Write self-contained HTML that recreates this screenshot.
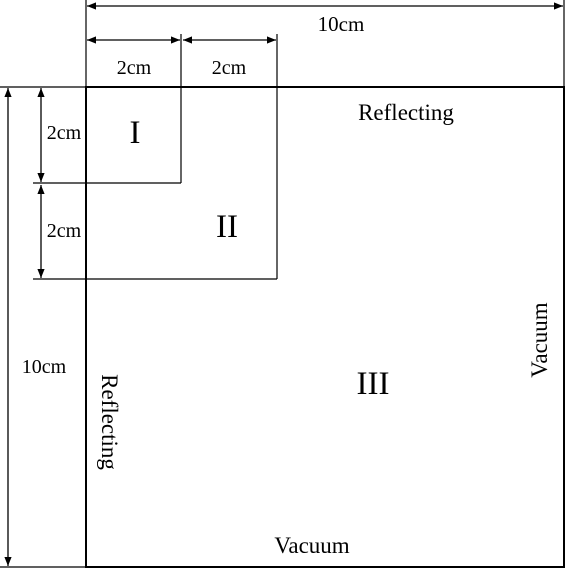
<!DOCTYPE html>
<html><head><meta charset="utf-8"><style>
html,body{margin:0;padding:0;background:#fff;}
svg{display:block;font-family:"Liberation Serif",serif;}
</style></head><body>
<svg width="568" height="570" viewBox="0 0 568 570">
<defs>
<marker id="ah" viewBox="0 0 10 10" refX="10" refY="5" markerWidth="9" markerHeight="9" orient="auto-start-reverse" markerUnits="userSpaceOnUse"><path d="M0,1 L10,5 L0,9 z" fill="#000"/></marker>
</defs>
<g stroke="#000" stroke-width="1.2" fill="none">
<line x1="86" y1="0" x2="86" y2="87"/>
<line x1="181" y1="34" x2="181" y2="183"/>
<line x1="277" y1="34" x2="277" y2="279"/>
<line x1="0" y1="87" x2="86" y2="87"/>
<line x1="33" y1="183" x2="181" y2="183"/>
<line x1="33" y1="279" x2="277" y2="279"/>
<line x1="0" y1="567" x2="86" y2="567"/>
<line x1="564" y1="0" x2="564" y2="87"/>
</g>
<rect x="86" y="87" width="478" height="480" fill="none" stroke="#000" stroke-width="2"/>
<g stroke="#000" stroke-width="1.3">
<line x1="87" y1="6" x2="563" y2="6" marker-start="url(#ah)" marker-end="url(#ah)"/>
<line x1="87" y1="40" x2="180" y2="40" marker-start="url(#ah)" marker-end="url(#ah)"/>
<line x1="183" y1="40" x2="276" y2="40" marker-start="url(#ah)" marker-end="url(#ah)"/>
<line x1="8" y1="88" x2="8" y2="566" marker-start="url(#ah)" marker-end="url(#ah)"/>
<line x1="41" y1="88" x2="41" y2="182" marker-start="url(#ah)" marker-end="url(#ah)"/>
<line x1="41" y1="185" x2="41" y2="278" marker-start="url(#ah)" marker-end="url(#ah)"/>
</g>
<g font-size="20" fill="#000">
<text x="341" y="31" text-anchor="middle" font-size="21">10cm</text>
<text x="134" y="74" text-anchor="middle">2cm</text>
<text x="229" y="74" text-anchor="middle">2cm</text>
<text x="64" y="139" text-anchor="middle">2cm</text>
<text x="64" y="237" text-anchor="middle">2cm</text>
<text x="44" y="373" text-anchor="middle">10cm</text>
<text x="406" y="120" text-anchor="middle" font-size="23">Reflecting</text>
<text x="312" y="553" text-anchor="middle" font-size="23">Vacuum</text>
<text transform="translate(102,422) rotate(90)" text-anchor="middle" font-size="23">Reflecting</text>
<text transform="translate(547,340) rotate(-90)" text-anchor="middle" font-size="23">Vacuum</text>
<text x="135" y="143" text-anchor="middle" font-size="33">I</text>
<text x="227" y="237" text-anchor="middle" font-size="33">II</text>
<text x="373" y="394" text-anchor="middle" font-size="33">III</text>
</g>
</svg>
</body></html>
